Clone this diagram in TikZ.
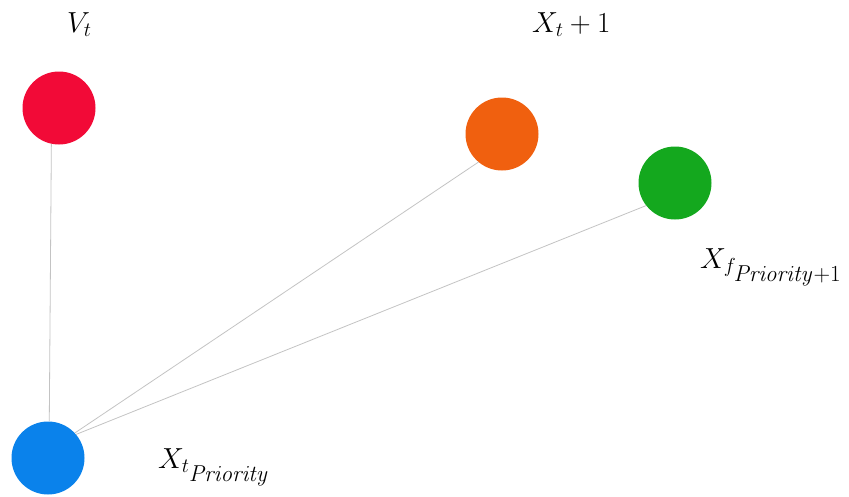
\RequirePackage{fix-cm}
\documentclass[tikz,border=0pt]{standalone}
\definecolor{nred}{RGB}{242,10,55}
\definecolor{norange}{RGB}{240,96,15}
\definecolor{ngreen}{RGB}{20,168,30}
\definecolor{nblue}{RGB}{10,130,235}
\definecolor{edgegray}{RGB}{195,195,195}
\newcommand{\subsub}[1]{\mbox{\fontsize{23}{27}\selectfont$#1$}}
\begin{document}
\begin{tikzpicture}[x=1pt,y=-1pt,
  dot/.style={circle,draw=none,inner sep=0pt,minimum size=73pt},
  lbl/.style={anchor=base west,inner sep=0pt,font=\fontsize{29}{35}\selectfont},
  edge/.style={draw=edgegray,line width=0.8pt}]
\useasboundingbox (0,0) rectangle (849,496);
\node[dot,fill=nred] (vt) at (59,108) {};
\node[dot,fill=norange] (xt1) at (502,134) {};
\node[dot,fill=ngreen] (xf) at (675,183) {};
\node[dot,fill=nblue] (xp) at (48,458) {};
\draw[edge] (vt.258) -- (xp.88);
\draw[edge] (xt1.230) -- (xp.43);
\draw[edge] (xf.218) -- (xp.40);
\node[lbl] (lvt) at (67,32) {$V_t$};
\node[lbl] (lxt1) at (532,32) {$X_t+1$};
\node[lbl] (lxf) at (700,268) {$X_{f_{\subsub{\mathit{Priority}{+}1}}}$};
\node[lbl] (lxp) at (158,468) {$X_{t_{\subsub{\mathit{Priority}}}}$};
\end{tikzpicture}
\end{document}
